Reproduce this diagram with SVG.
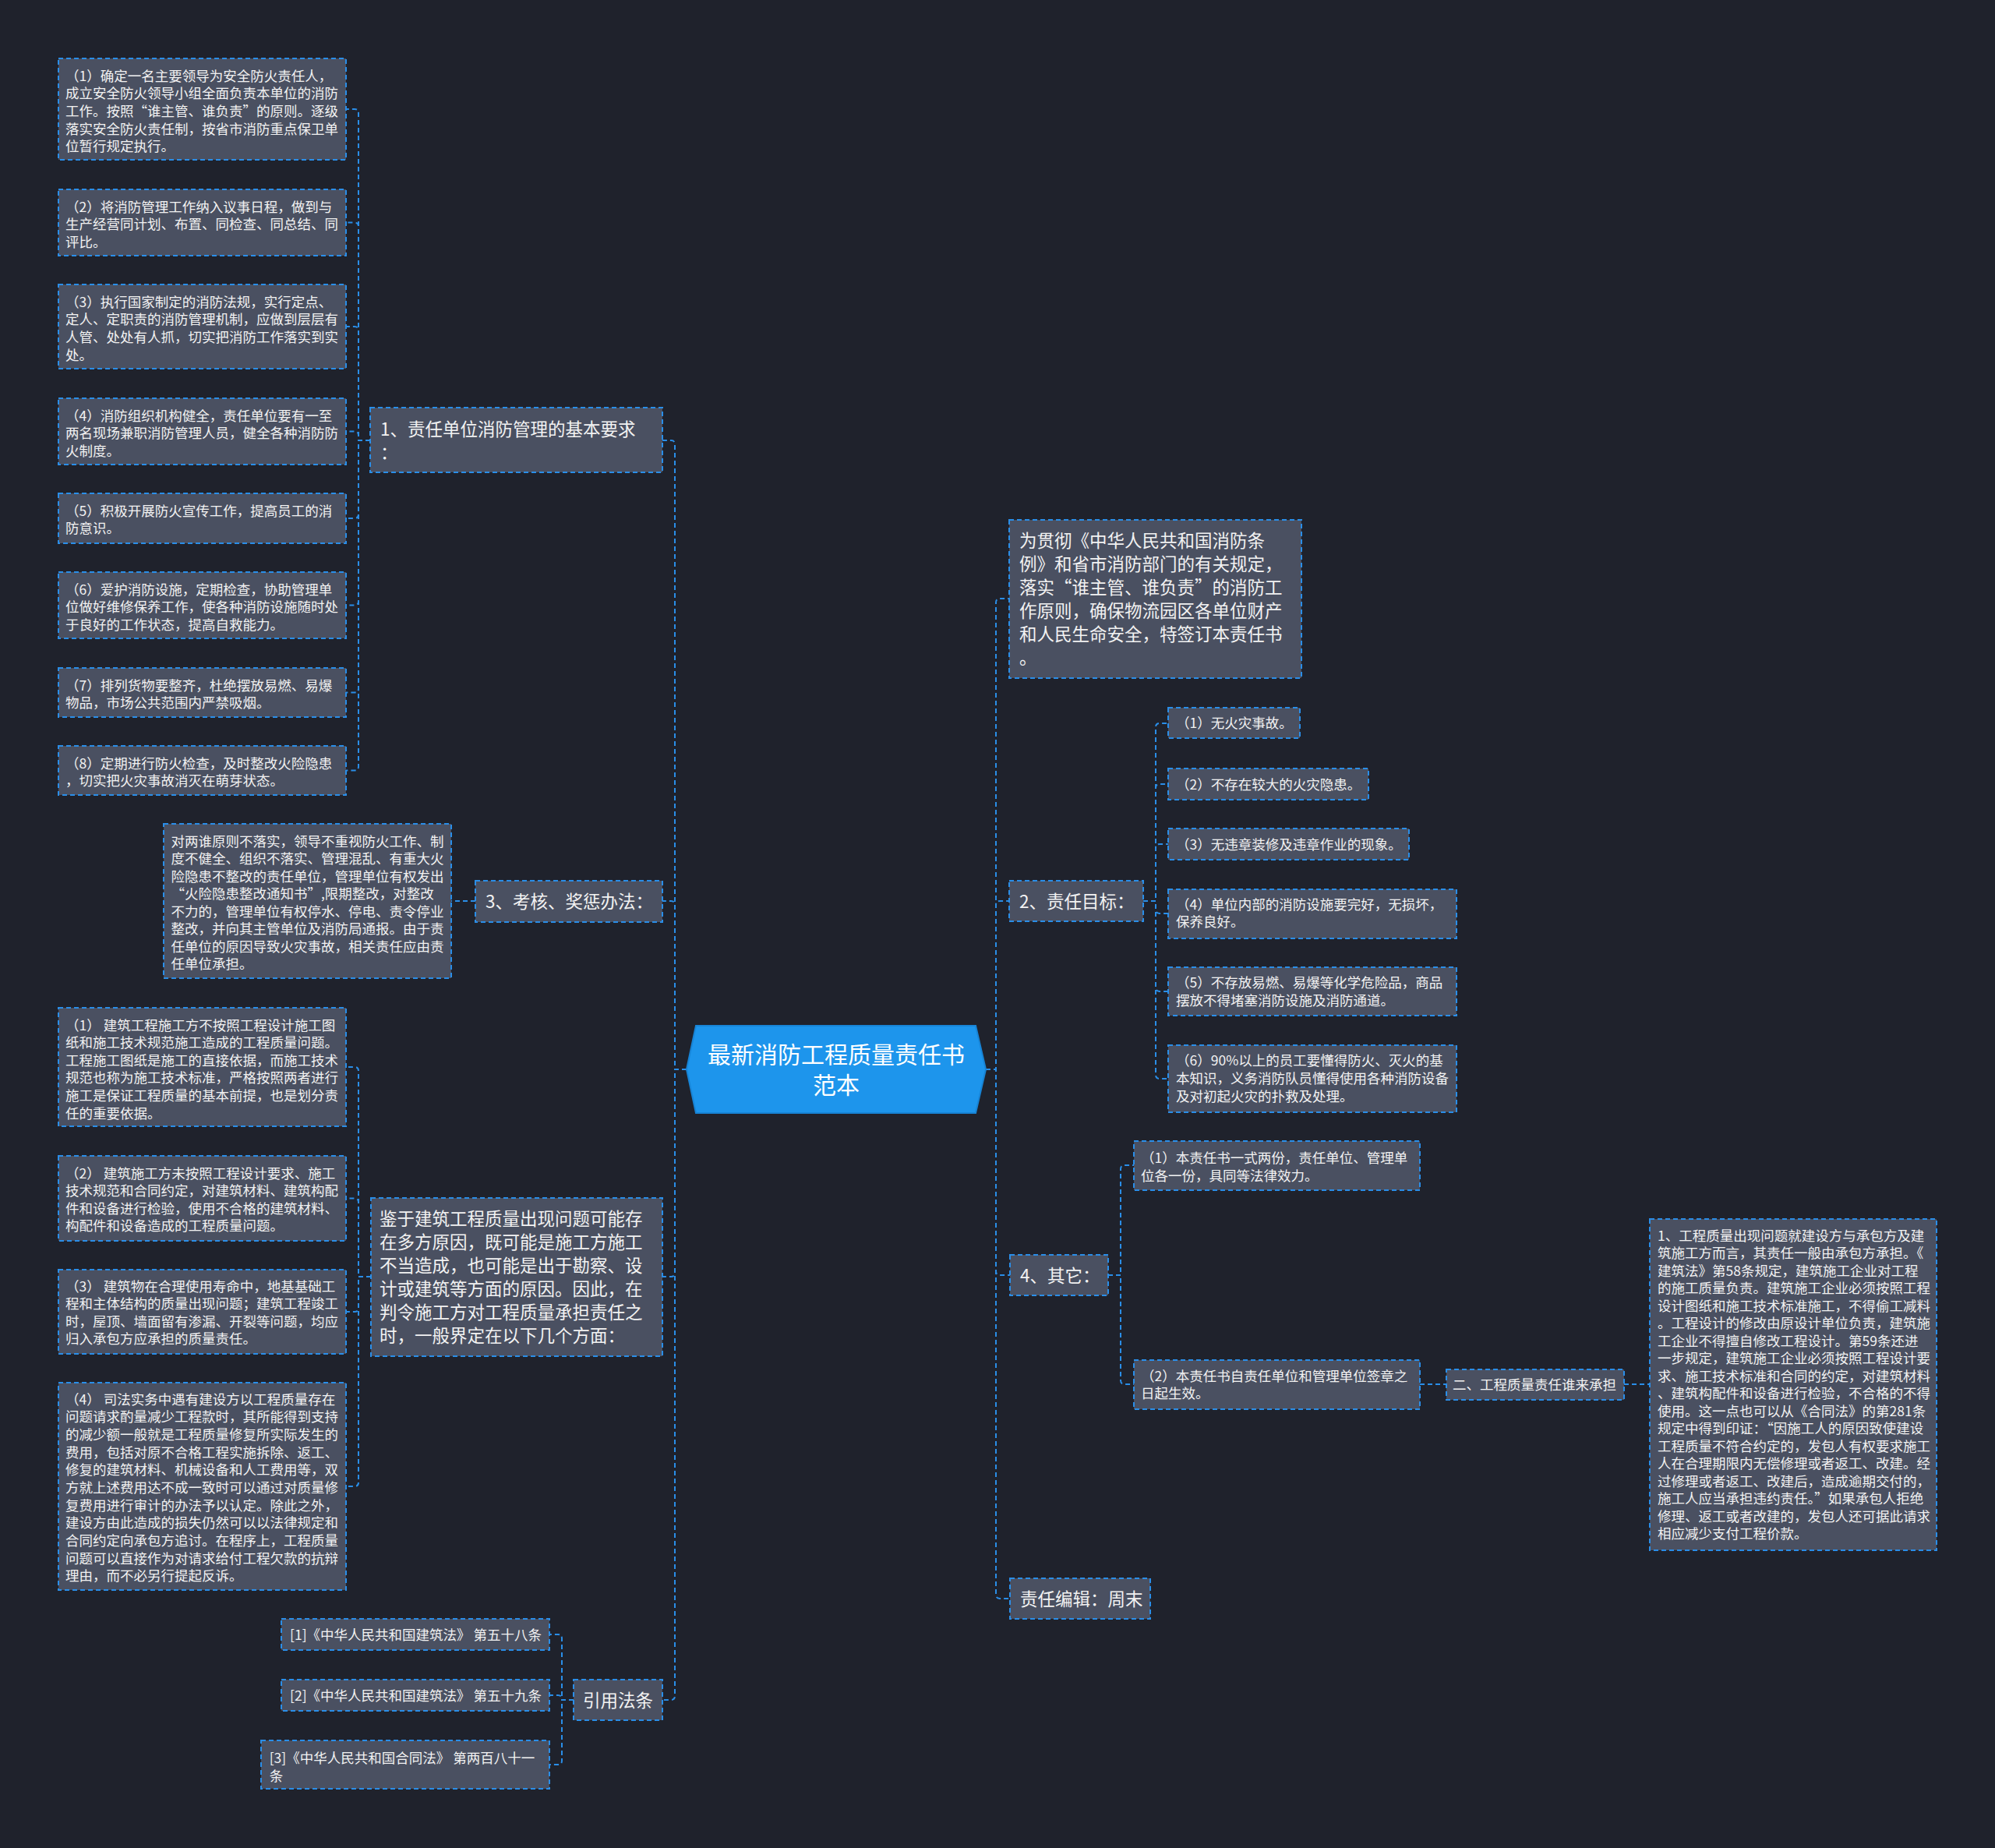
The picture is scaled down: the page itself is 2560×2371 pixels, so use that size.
<svg xmlns="http://www.w3.org/2000/svg" width="2560" height="2371" viewBox="0 0 2560 2371">
<style>
.bg{fill:#1f222c}
.box{fill:#4a5061;stroke:#2a8ee8;stroke-width:2;stroke-dasharray:6 4}
.root{fill:#1d95ec;stroke:#1784d6;stroke-width:2}
.con{fill:none;stroke:#2a8ee8;stroke-width:2;stroke-dasharray:6 4}
text{font-family:"Noto Sans CJK SC","Noto Sans",sans-serif;fill:#f2f2f2}
.s{font-size:17.5px}
.m{font-size:22.5px}
.l{font-size:30px;fill:#ffffff}
</style>
<rect class="bg" x="0" y="0" width="2560" height="2371"/>

<g id="connectors">
<!-- root left -->
<path class="con" d="M881,1372 H866 V570 Q866,565 861,565 H850"/>
<path class="con" d="M881,1372 H866 V1161 Q866,1156 861,1156 H850"/>
<path class="con" d="M881,1372 H866 V1633 Q866,1638 861,1638 H850"/>
<path class="con" d="M881,1372 H866 V2176 Q866,2181 861,2181 H850"/>
<!-- root right -->
<path class="con" d="M1265,1372 H1278 V773 Q1278,768 1283,768 H1295"/>
<path class="con" d="M1265,1372 H1278 V1161 Q1278,1156 1283,1156 H1295"/>
<path class="con" d="M1265,1372 H1278 V1631 Q1278,1636 1283,1636 H1296"/>
<path class="con" d="M1265,1372 H1278 V2046 Q1278,2051 1283,2051 H1296"/>
<!-- node1 children -->
<path class="con" d="M475,565 H460 V145 Q460,140 455,140 H444"/>
<path class="con" d="M475,565 H460 V290.5 Q460,285.5 455,285.5 H444"/>
<path class="con" d="M475,565 H460 V424 Q460,419 455,419 H444"/>
<path class="con" d="M475,565 H460 V558.5 Q460,553.5 455,553.5 H444"/>
<path class="con" d="M475,565 H460 V660 Q460,665 455,665 H444"/>
<path class="con" d="M475,565 H460 V771.5 Q460,776.5 455,776.5 H444"/>
<path class="con" d="M475,565 H460 V883.5 Q460,888.5 455,888.5 H444"/>
<path class="con" d="M475,565 H460 V983.5 Q460,988.5 455,988.5 H444"/>
<!-- node3 child -->
<path class="con" d="M610,1156 H579"/>
<!-- jianyu children -->
<path class="con" d="M476,1638 H460 V1374 Q460,1369 455,1369 H444"/>
<path class="con" d="M476,1638 H460 V1542.5 Q460,1537.5 455,1537.5 H444"/>
<path class="con" d="M476,1638 H460 V1678 Q460,1683 455,1683 H444"/>
<path class="con" d="M476,1638 H460 V1902 Q460,1907 455,1907 H444"/>
<!-- refs children -->
<path class="con" d="M736,2181 H721 V2102 Q721,2097 716,2097 H705"/>
<path class="con" d="M736,2181 H721 V2180 Q721,2175 716,2175 H705"/>
<path class="con" d="M736,2181 H721 V2259 Q721,2264 716,2264 H705"/>
<!-- node2 children -->
<path class="con" d="M1467,1156 H1483 V933 Q1483,928 1488,928 H1499"/>
<path class="con" d="M1467,1156 H1483 V1011 Q1483,1006 1488,1006 H1499"/>
<path class="con" d="M1467,1156 H1483 V1088 Q1483,1083 1488,1083 H1499"/>
<path class="con" d="M1467,1156 H1483 V1167 Q1483,1172 1488,1172 H1499"/>
<path class="con" d="M1467,1156 H1483 V1267 Q1483,1272 1488,1272 H1499"/>
<path class="con" d="M1467,1156 H1483 V1379 Q1483,1384 1488,1384 H1499"/>
<!-- node4 children -->
<path class="con" d="M1422,1636 H1438 V1500 Q1438,1495 1443,1495 H1455"/>
<path class="con" d="M1422,1636 H1438 V1771 Q1438,1776 1443,1776 H1455"/>
<path class="con" d="M1822,1776 H1856"/>
<path class="con" d="M2084,1776 H2117"/>
</g>

<g id="root">
<polygon class="root" points="893,1316 1252,1316 1265,1372 1252,1428 893,1428 881,1372"/>
<text class="l" x="1073" y="1364.4" text-anchor="middle">最新消防工程质量责任书</text>
<text class="l" x="1073" y="1403.4" text-anchor="middle">范本</text>
</g>

<g id="n1">
<rect class="box" x="475" y="523" width="375" height="83"/>
<text class="m" x="488"><tspan x="488" y="558.5">1、责任单位消防管理的基本要求</tspan><tspan x="488" y="588.5">：</tspan></text>
</g>
<g id="n1-1">
<rect class="box" x="75" y="75" width="369" height="130"/>
<text class="s"><tspan x="84" y="103.6">（1）确定一名主要领导为安全防火责任人，</tspan><tspan x="84" y="126.3">成立安全防火领导小组全面负责本单位的消防</tspan><tspan x="84" y="149">工作。按照“谁主管、谁负责”的原则。逐级</tspan><tspan x="84" y="171.7">落实安全防火责任制，按省市消防重点保卫单</tspan><tspan x="84" y="194.4">位暂行规定执行。</tspan></text>
</g>
<g id="n1-2">
<rect class="box" x="75" y="243" width="369" height="85"/>
<text class="s"><tspan x="84" y="271.6">（2）将消防管理工作纳入议事日程，做到与</tspan><tspan x="84" y="294.3">生产经营同计划、布置、同检查、同总结、同</tspan><tspan x="84" y="317">评比。</tspan></text>
</g>
<g id="n1-3">
<rect class="box" x="75" y="365" width="369" height="108"/>
<text class="s"><tspan x="84" y="393.6">（3）执行国家制定的消防法规，实行定点、</tspan><tspan x="84" y="416.3">定人、定职责的消防管理机制，应做到层层有</tspan><tspan x="84" y="439">人管、处处有人抓，切实把消防工作落实到实</tspan><tspan x="84" y="461.7">处。</tspan></text>
</g>
<g id="n1-4">
<rect class="box" x="75" y="511" width="369" height="85"/>
<text class="s"><tspan x="84" y="539.6">（4）消防组织机构健全，责任单位要有一至</tspan><tspan x="84" y="562.3">两名现场兼职消防管理人员，健全各种消防防</tspan><tspan x="84" y="585">火制度。</tspan></text>
</g>
<g id="n1-5">
<rect class="box" x="75" y="633" width="369" height="64"/>
<text class="s"><tspan x="84" y="661.6">（5）积极开展防火宣传工作，提高员工的消</tspan><tspan x="84" y="684.3">防意识。</tspan></text>
</g>
<g id="n1-6">
<rect class="box" x="75" y="734" width="369" height="85"/>
<text class="s"><tspan x="84" y="762.6">（6）爱护消防设施，定期检查，协助管理单</tspan><tspan x="84" y="785.3">位做好维修保养工作，使各种消防设施随时处</tspan><tspan x="84" y="808">于良好的工作状态，提高自救能力。</tspan></text>
</g>
<g id="n1-7">
<rect class="box" x="75" y="857" width="369" height="63"/>
<text class="s"><tspan x="84" y="885.6">（7）排列货物要整齐，杜绝摆放易燃、易爆</tspan><tspan x="84" y="908.3">物品，市场公共范围内严禁吸烟。</tspan></text>
</g>
<g id="n1-8">
<rect class="box" x="75" y="957" width="369" height="63"/>
<text class="s"><tspan x="84" y="985.6">（8）定期进行防火检查，及时整改火险隐患</tspan><tspan x="84" y="1008.3">，切实把火灾事故消灭在萌芽状态。</tspan></text>
</g>

<g id="n3">
<rect class="box" x="610" y="1130" width="240" height="53"/>
<text class="m" x="623" y="1165">3、考核、奖惩办法：</text>
</g>
<g id="n3-1">
<rect class="box" x="210" y="1057" width="369" height="198"/>
<text class="s"><tspan x="219.5" y="1085.6">对两谁原则不落实，领导不重视防火工作、制</tspan><tspan x="219.5" y="1108.1">度不健全、组织不落实、管理混乱、有重大火</tspan><tspan x="219.5" y="1130.6">险隐患不整改的责任单位，管理单位有权发出</tspan><tspan x="219.5" y="1153.1">“火险隐患整改通知书”,限期整改，对整改</tspan><tspan x="219.5" y="1175.6">不力的，管理单位有权停水、停电、责令停业</tspan><tspan x="219.5" y="1198.1">整改，并向其主管单位及消防局通报。由于责</tspan><tspan x="219.5" y="1220.6">任单位的原因导致火灾事故，相关责任应由责</tspan><tspan x="219.5" y="1243.1">任单位承担。</tspan></text>
</g>

<g id="n5">
<rect class="box" x="476" y="1537" width="374" height="203"/>
<text class="m"><tspan x="487" y="1571.5">鉴于建筑工程质量出现问题可能存</tspan><tspan x="487" y="1601.5">在多方原因，既可能是施工方施工</tspan><tspan x="487" y="1631.5">不当造成，也可能是出于勘察、设</tspan><tspan x="487" y="1661.5">计或建筑等方面的原因。因此，在</tspan><tspan x="487" y="1691.5">判令施工方对工程质量承担责任之</tspan><tspan x="487" y="1721.5">时，一般界定在以下几个方面：</tspan></text>
</g>
<g id="n5-1">
<rect class="box" x="75" y="1293" width="369" height="152"/>
<text class="s"><tspan x="84" y="1321.6">（1） 建筑工程施工方不按照工程设计施工图</tspan><tspan x="84" y="1344.2">纸和施工技术规范施工造成的工程质量问题。</tspan><tspan x="84" y="1366.8">工程施工图纸是施工的直接依据，而施工技术</tspan><tspan x="84" y="1389.4">规范也称为施工技术标准，严格按照两者进行</tspan><tspan x="84" y="1412">施工是保证工程质量的基本前提，也是划分责</tspan><tspan x="84" y="1434.6">任的重要依据。</tspan></text>
</g>
<g id="n5-2">
<rect class="box" x="75" y="1483" width="369" height="109"/>
<text class="s"><tspan x="84" y="1511.6">（2） 建筑施工方未按照工程设计要求、施工</tspan><tspan x="84" y="1534.2">技术规范和合同约定，对建筑材料、建筑构配</tspan><tspan x="84" y="1556.8">件和设备进行检验，使用不合格的建筑材料、</tspan><tspan x="84" y="1579.4">构配件和设备造成的工程质量问题。</tspan></text>
</g>
<g id="n5-3">
<rect class="box" x="75" y="1629" width="369" height="108"/>
<text class="s"><tspan x="84" y="1656.6">（3） 建筑物在合理使用寿命中，地基基础工</tspan><tspan x="84" y="1679.1">程和主体结构的质量出现问题；建筑工程竣工</tspan><tspan x="84" y="1701.6">时，屋顶、墙面留有渗漏、开裂等问题，均应</tspan><tspan x="84" y="1724.1">归入承包方应承担的质量责任。</tspan></text>
</g>
<g id="n5-4">
<rect class="box" x="75" y="1774" width="369" height="266"/>
<text class="s"><tspan x="84" y="1801.6">（4） 司法实务中遇有建设方以工程质量存在</tspan><tspan x="84" y="1824.3">问题请求酌量减少工程款时，其所能得到支持</tspan><tspan x="84" y="1846.9">的减少额一般就是工程质量修复所实际发生的</tspan><tspan x="84" y="1869.6">费用，包括对原不合格工程实施拆除、返工、</tspan><tspan x="84" y="1892.3">修复的建筑材料、机械设备和人工费用等，双</tspan><tspan x="84" y="1914.9">方就上述费用达不成一致时可以通过对质量修</tspan><tspan x="84" y="1937.6">复费用进行审计的办法予以认定。除此之外，</tspan><tspan x="84" y="1960.3">建设方由此造成的损失仍然可以以法律规定和</tspan><tspan x="84" y="1982.9">合同约定向承包方追讨。在程序上，工程质量</tspan><tspan x="84" y="2005.6">问题可以直接作为对请求给付工程欠款的抗辩</tspan><tspan x="84" y="2028.3">理由，而不必另行提起反诉。</tspan></text>
</g>

<g id="n7">
<rect class="box" x="736" y="2155" width="114" height="52"/>
<text class="m" x="748" y="2189.5">引用法条</text>
</g>
<g id="n7-1">
<rect class="box" x="361" y="2077" width="344" height="40"/>
<text class="s" x="372" y="2103.6">[1]《中华人民共和国建筑法》 第五十八条</text>
</g>
<g id="n7-2">
<rect class="box" x="361" y="2155" width="344" height="40"/>
<text class="s" x="372" y="2181.6">[2]《中华人民共和国建筑法》 第五十九条</text>
</g>
<g id="n7-3">
<rect class="box" x="335" y="2233" width="370" height="62"/>
<text class="s"><tspan x="345.7" y="2261.6">[3]《中华人民共和国合同法》 第两百八十一</tspan><tspan x="345.7" y="2284.9">条</tspan></text>
</g>

<g id="n0">
<rect class="box" x="1295" y="667" width="375" height="203"/>
<text class="m"><tspan x="1308" y="701.5">为贯彻《中华人民共和国消防条</tspan><tspan x="1308" y="731.5">例》和省市消防部门的有关规定，</tspan><tspan x="1308" y="761.5">落实“谁主管、谁负责”的消防工</tspan><tspan x="1308" y="791.5">作原则，确保物流园区各单位财产</tspan><tspan x="1308" y="821.5">和人民生命安全，特签订本责任书</tspan><tspan x="1308" y="851.5">。</tspan></text>
</g>

<g id="n2">
<rect class="box" x="1295" y="1130" width="172" height="52"/>
<text class="m" x="1308" y="1164.5">2、责任目标：</text>
</g>
<g id="n2-1">
<rect class="box" x="1499" y="908" width="169" height="39"/>
<text class="s" x="1509" y="934">（1）无火灾事故。</text>
</g>
<g id="n2-2">
<rect class="box" x="1499" y="986" width="257" height="40"/>
<text class="s" x="1509" y="1012.6">（2）不存在较大的火灾隐患。</text>
</g>
<g id="n2-3">
<rect class="box" x="1499" y="1063" width="309" height="40"/>
<text class="s" x="1509" y="1089.6">（3）无违章装修及违章作业的现象。</text>
</g>
<g id="n2-4">
<rect class="box" x="1499" y="1141" width="370" height="63"/>
<text class="s"><tspan x="1509" y="1166.6">（4）单位内部的消防设施要完好，无损坏，</tspan><tspan x="1509" y="1189.3">保养良好。</tspan></text>
</g>
<g id="n2-5">
<rect class="box" x="1499" y="1241" width="370" height="62"/>
<text class="s"><tspan x="1509" y="1267.3">（5）不存放易燃、易爆等化学危险品，商品</tspan><tspan x="1509" y="1290">摆放不得堵塞消防设施及消防通道。</tspan></text>
</g>
<g id="n2-6">
<rect class="box" x="1499" y="1341" width="370" height="86"/>
<text class="s"><tspan x="1509" y="1367.3">（6）90%以上的员工要懂得防火、灭火的基</tspan><tspan x="1509" y="1390">本知识，义务消防队员懂得使用各种消防设备</tspan><tspan x="1509" y="1412.7">及对初起火灾的扑救及处理。</tspan></text>
</g>

<g id="n4">
<rect class="box" x="1296" y="1610" width="126" height="52"/>
<text class="m" x="1309" y="1644.5">4、其它：</text>
</g>
<g id="n4-1">
<rect class="box" x="1455" y="1464" width="367" height="63"/>
<text class="s"><tspan x="1464" y="1492">（1）本责任书一式两份，责任单位、管理单</tspan><tspan x="1464" y="1514.7">位各一份，具同等法律效力。</tspan></text>
</g>
<g id="n4-2">
<rect class="box" x="1455" y="1745" width="367" height="63"/>
<text class="s"><tspan x="1464" y="1771.8">（2）本责任书自责任单位和管理单位签章之</tspan><tspan x="1464" y="1793.5">日起生效。</tspan></text>
</g>
<g id="n4-2-1">
<rect class="box" x="1856" y="1757" width="228" height="39"/>
<text class="s" x="1864" y="1783">二、工程质量责任谁来承担</text>
</g>
<g id="n4-2-1-1">
<rect class="box" x="2117" y="1564" width="368" height="425"/>
<text class="s"><tspan x="2127" y="1591.9">1、工程质量出现问题就建设方与承包方及建</tspan><tspan x="2127" y="1614.4">筑施工方而言，其责任一般由承包方承担。《</tspan><tspan x="2127" y="1636.9">建筑法》第58条规定，建筑施工企业对工程</tspan><tspan x="2127" y="1659.4">的施工质量负责。建筑施工企业必须按照工程</tspan><tspan x="2127" y="1681.9">设计图纸和施工技术标准施工，不得偷工减料</tspan><tspan x="2127" y="1704.4">。工程设计的修改由原设计单位负责，建筑施</tspan><tspan x="2127" y="1726.9">工企业不得擅自修改工程设计。第59条还进</tspan><tspan x="2127" y="1749.4">一步规定，建筑施工企业必须按照工程设计要</tspan><tspan x="2127" y="1771.9">求、施工技术标准和合同的约定，对建筑材料</tspan><tspan x="2127" y="1794.4">、建筑构配件和设备进行检验，不合格的不得</tspan><tspan x="2127" y="1816.9">使用。这一点也可以从《合同法》的第281条</tspan><tspan x="2127" y="1839.4">规定中得到印证：“因施工人的原因致使建设</tspan><tspan x="2127" y="1861.9">工程质量不符合约定的，发包人有权要求施工</tspan><tspan x="2127" y="1884.4">人在合理期限内无偿修理或者返工、改建。经</tspan><tspan x="2127" y="1906.9">过修理或者返工、改建后，造成逾期交付的，</tspan><tspan x="2127" y="1929.4">施工人应当承担违约责任。”如果承包人拒绝</tspan><tspan x="2127" y="1951.9">修理、返工或者改建的，发包人还可据此请求</tspan><tspan x="2127" y="1974.4">相应减少支付工程价款。</tspan></text>
</g>

<g id="n6">
<rect class="box" x="1296" y="2025" width="180" height="52"/>
<text class="m" x="1309" y="2059.5">责任编辑：周末</text>
</g>
</svg>
